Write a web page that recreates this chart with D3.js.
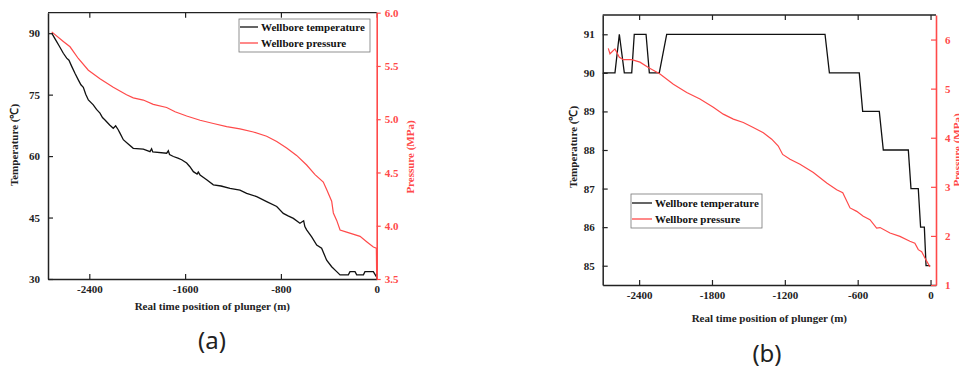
<!DOCTYPE html>
<html><head><meta charset="utf-8">
<script src="https://cdn.jsdelivr.net/npm/d3@7"></script>
<style>body{margin:0;background:#fff}svg{display:block}</style>
</head><body>
<svg id="c" width="959" height="371"></svg>
<script>
// ---- Panel (a) data ----
const aTempX = [-2714,-2680,-2650,-2617,-2589,-2570,-2547,-2520,-2492,-2470,-2450,-2430,-2408,-2367,-2340,-2311,-2290,-2269,-2230,-2200,-2180,-2160,-2144,-2116,-2080,-2033,-1949,-1893,-1880,-1870,-1754,-1740,-1730,-1698,-1660,-1629,-1587,-1560,-1531,-1500,-1490,-1475,-1420,-1364,-1300,-1225,-1142,-1086,-1002,-919,-835,-780,-740,-696,-641,-610,-600,-585,-543,-501,-460,-418,-376,-334,-306,-237,-223,-181,-167,-111,-98,-28,-3];
const aTempY = [90,88.3,86.8,85.1,83.9,83.4,81.9,80.2,78.6,77.4,76.8,75.1,73.7,72.5,71.4,70.5,69.4,68.8,67.6,66.8,67.4,66.5,65.6,64,63.1,61.9,61.7,61.1,61.8,61,60.7,61.3,60.4,59.9,59.5,59.1,58.3,57.4,56.2,55.6,56.1,55.4,54.2,53,52.7,52.1,51.7,50.9,50.1,48.9,47.7,46,45.4,44.8,43.6,44.2,42.8,42,40.3,38.3,37.5,34.6,33,31.8,31,31,31.8,31.8,31,31,31.8,31.8,30.6];
const aPresX = [-2714,-2617,-2561,-2492,-2408,-2311,-2200,-2089,-2033,-1949,-1866,-1754,-1684,-1587,-1475,-1364,-1253,-1142,-1030,-919,-835,-752,-669,-585,-515,-446,-418,-376,-362,-334,-306,-251,-139,-84,-28,-3,0];
const aPresY = [5.82,5.73,5.68,5.57,5.46,5.38,5.30,5.23,5.20,5.18,5.14,5.11,5.07,5.03,4.99,4.96,4.93,4.91,4.88,4.84,4.79,4.73,4.66,4.57,4.48,4.41,4.34,4.23,4.12,4.05,3.96,3.94,3.90,3.85,3.80,3.79,3.5];
const aXTicks = [-2400,-1600,-800,0];
const aTTicks = [30,45,60,75,90];
const aPTicks = [3.5,4.0,4.5,5.0,5.5,6.0];

// ---- Panel (b) data ----
const bTempX = [-2695,-2599,-2563,-2522,-2461,-2440,-2343,-2316,-2234,-2173,-869,-833,-587,-559,-422,-389,-183,-161,-101,-82,-51,-37,-3];
const bTempY = [90,90,91,90,90,91,91,90,90,91,91,90,90,89,89,88,88,87,87,86,86,85,85];
const bPresX = [-2654,-2640,-2599,-2563,-2530,-2461,-2393,-2324,-2228,-2118,-2008,-1899,-1789,-1707,-1624,-1542,-1460,-1377,-1308,-1254,-1218,-1157,-1075,-965,-855,-773,-723,-663,-608,-554,-499,-444,-416,-334,-252,-170,-129,-101,-73,-46,-5];
const bPresY = [5.82,5.71,5.81,5.64,5.59,5.59,5.54,5.43,5.30,5.09,4.92,4.79,4.62,4.48,4.38,4.31,4.21,4.10,3.97,3.83,3.66,3.56,3.46,3.29,3.08,2.94,2.88,2.57,2.50,2.40,2.33,2.16,2.17,2.06,1.99,1.89,1.85,1.72,1.68,1.55,1.37];
const bXTicks = [-2400,-1800,-1200,-600,0];
const bTTicks = [85,86,87,88,89,90,91];
const bPTicks = [1,2,3,4,5,6];

const seriesNames = ["Wellbore temperature","Wellbore pressure"];
const RED = "#ff4a4a";
const FONT = "'Liberation Serif','Times New Roman',serif";
const svg = d3.select("#c");

function panel(o){
  const g = svg.append("g");
  const x = d3.scaleLinear().domain(o.xDom).range([o.L,o.R]);
  const yT = d3.scaleLinear().domain(o.tDom).range([o.B,o.T]);
  const yP = d3.scaleLinear().domain(o.pDom).range([o.B,o.T]);
  const txt = s => s.attr("font-family",FONT).attr("font-weight","bold").attr("font-size","11px");

  const lt = d3.line().x(d=>x(d[0])).y(d=>yT(d[1]));
  const lp = d3.line().x(d=>x(d[0])).y(d=>yP(d[1]));
  g.append("path").datum(d3.zip(o.tx,o.ty)).attr("d",lt).attr("fill","none").attr("stroke","#111").attr("stroke-width",1.3);
  g.append("path").datum(d3.zip(o.px,o.py)).attr("d",lp).attr("fill","none").attr("stroke",RED).attr("stroke-width",1.2);

  g.append("line").attr("x1",o.L).attr("x2",o.R).attr("y1",o.T).attr("y2",o.T).attr("stroke","#222").attr("stroke-width",1.3);
  const ax = g.append("g").attr("transform",`translate(0,${o.B})`).call(d3.axisBottom(x).tickValues(o.xt).tickSizeInner(-5).tickSizeOuter(0).tickPadding(6).tickFormat(d3.format("d")));
  ax.select(".domain").attr("stroke","#222").attr("stroke-width",1.5);
  ax.selectAll(".tick line").attr("stroke","#222").attr("stroke-width",1.2);
  ax.selectAll("text").call(txt).attr("fill","#222").text(d=>d===0?"0":String(d).replace("−","-"));
  const axTop = g.append("g").attr("transform",`translate(0,${o.T})`).call(d3.axisTop(x).tickValues(o.xt).tickSizeInner(-5).tickSizeOuter(0).tickFormat(""));
  axTop.select(".domain").remove();
  axTop.selectAll(".tick line").attr("stroke","#222").attr("stroke-width",1.2);

  const ay = g.append("g").attr("transform",`translate(${o.L},0)`).call(d3.axisLeft(yT).tickValues(o.tt).tickSizeInner(-5).tickSizeOuter(0).tickPadding(8).tickFormat(d3.format("d")));
  ay.select(".domain").attr("stroke","#222").attr("stroke-width",1.5);
  ay.selectAll(".tick line").attr("stroke","#222").attr("stroke-width",1.2);
  ay.selectAll("text").call(txt).attr("fill","#222");

  const ap = g.append("g").attr("transform",`translate(${o.R},0)`).call(d3.axisRight(yP).tickValues(o.pt).tickSizeInner(o.pTickIn?-5:4).tickSizeOuter(0).tickPadding(o.pTickIn?9:4).tickFormat(d3.format(o.pFmt)));
  ap.select(".domain").attr("stroke",RED).attr("stroke-width",1.6);
  ap.selectAll(".tick line").attr("stroke",RED).attr("stroke-width",1.2);
  ap.selectAll("text").call(txt).attr("fill",RED);

  g.append("text").call(txt).attr("fill","#222").attr("text-anchor","middle")
    .attr("x",(o.L+o.R)/2).attr("y",o.xTitleY).text("Real time position of plunger (m)");
  g.append("text").call(txt).attr("fill","#222").attr("text-anchor","middle")
    .attr("transform",`translate(${o.yTitleX},${o.yTitleY}) rotate(-90)`).text("Temperature (℃)");
  g.append("text").call(txt).attr("fill",RED).attr("text-anchor","middle")
    .attr("transform",`translate(${o.pTitleX},${o.pTitleY}) rotate(-90)`).text("Pressure (MPa)");

  const lg = g.append("g").attr("transform",`translate(${o.lg[0]},${o.lg[1]})`);
  lg.append("rect").attr("width",o.lg[2]).attr("height",o.lg[3]).attr("fill","#fff").attr("stroke","#777").attr("stroke-width",0.8);
  seriesNames.forEach((n,i)=>{
    const yy = o.lgRow[i];
    lg.append("line").attr("x1",1).attr("x2",o.lgLine).attr("y1",yy).attr("y2",yy).attr("stroke",i?RED:"#111").attr("stroke-width",1.3);
    lg.append("text").call(txt).attr("fill","#111").attr("x",o.lgLine+3).attr("y",yy+4).text(n);
  });

  g.append("text").attr("font-family","'Noto Sans','Open Sans',sans-serif").attr("font-size","24px").attr("fill","#222")
    .attr("text-anchor","middle").attr("x",o.lab[0]).attr("y",o.lab[1]).text(o.label);
}

panel({L:48,R:376.7,T:12.7,B:279,xDom:[-2745,0],tDom:[30,95],pDom:[3.5,6.0],
  tx:aTempX,ty:aTempY,px:aPresX,py:aPresY,xt:aXTicks,tt:aTTicks,pt:aPTicks,pFmt:".1f",pTickIn:false,
  xTitleY:310,yTitleX:18,yTitleY:145,pTitleX:414,pTitleY:157,
  lg:[239,19,131,33],lgRow:[8,24],lgLine:19,lab:[212,349],label:"(a)"});

panel({L:602.7,R:936,T:15,B:285,xDom:[-2700,45],tDom:[84.5,91.5],pDom:[1,6.5],
  tx:bTempX,ty:bTempY,px:bPresX,py:bPresY,xt:bXTicks,tt:bTTicks,pt:bPTicks,pFmt:"d",pTickIn:true,
  xTitleY:322,yTitleX:577,yTitleY:147,pTitleX:961,pTitleY:150,
  lg:[631,194,131,34],lgRow:[9,25],lgLine:21,lab:[767,362],label:"(b)"});
</script>
</body></html>
